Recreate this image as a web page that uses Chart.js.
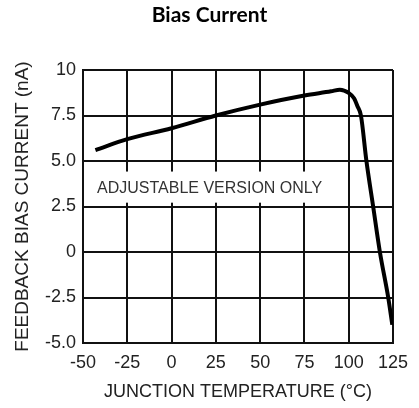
<!DOCTYPE html>
<html>
<head>
<meta charset="utf-8">
<script src="https://cdn.jsdelivr.net/npm/chart.js@4.4.0/dist/chart.umd.min.js"></script>
<style>
  html, body { margin: 0; padding: 0; background: #fff; }
  #wrap { width: 419px; height: 408px; }
</style>
</head>
<body>
<div id="wrap"><canvas id="biasChart" width="419" height="408"></canvas></div>
<script>
// data
const junctionTemp = [-43, -25, 0, 25, 50, 75, 90, 95, 100, 103, 105, 106.9, 110, 113.8, 117.6, 122.3, 124.6];
const biasCurrent  = [5.6, 6.2, 6.8, 7.5, 8.1, 8.6, 8.83, 8.92, 8.74, 8.45, 8.0, 7.5, 5.0, 2.5, 0, -2.5, -4.0];

const xTickValues = [-50, -25, 0, 25, 50, 75, 100, 125];
const yTickValues = [-5, -2.5, 0, 2.5, 5, 7.5, 10];
const yTickLabels = ['-5.0', '-2.5', '0', '2.5', '5.0', '7.5', '10'];

const chartTitle = 'Bias Current';
const xTitle = 'JUNCTION TEMPERATURE (°C)';
const yTitle = 'FEEDBACK BIAS CURRENT (nA)';
const noteText = 'ADJUSTABLE VERSION ONLY';

const gridColor = '#111';
const textColor = '#222';
const sansFont = '"Liberation Sans", Arial, sans-serif';

// label in a white box on top of the grid
const notePlugin = {
  id: 'note',
  beforeDatasetsDraw(chart, args, opts) {
    const { ctx } = chart;
    const x = chart.scales.x, y = chart.scales.y;
    const left = x.getPixelForValue(opts.boxFrom[0]);
    const right = x.getPixelForValue(opts.boxTo[0]);
    const top = y.getPixelForValue(opts.boxFrom[1]);
    const bottom = y.getPixelForValue(opts.boxTo[1]);
    ctx.save();
    ctx.fillStyle = '#fff';
    ctx.fillRect(left, top, right - left, bottom - top);
    ctx.fillStyle = '#333';
    ctx.font = '16px ' + sansFont;
    ctx.textAlign = 'left';
    ctx.textBaseline = 'middle';
    ctx.fillText(noteText, x.getPixelForValue(opts.textAt[0]), y.getPixelForValue(opts.textAt[1]));
    ctx.restore();
  }
};

const ctx = document.getElementById('biasChart').getContext('2d');
new Chart(ctx, {
  type: 'scatter',
  data: {
    datasets: [{
      data: junctionTemp.map((t, i) => ({ x: t, y: biasCurrent[i] })),
      showLine: true,
      borderColor: '#000',
      borderWidth: 4,
      pointRadius: 0,
      cubicInterpolationMode: 'monotone',
      fill: false
    }]
  },
  options: {
    responsive: false,
    animation: false,
    layout: { padding: 0 },
    plugins: {
      legend: { display: false },
      tooltip: { enabled: false },
      title: {
        display: true,
        text: chartTitle,
        color: '#000',
        font: { family: 'Lato', size: 21, weight: 'bold' },
        padding: { top: 2.4, bottom: 42.4 }
      },
      note: { boxFrom: [-48.3, 4.42], boxTo: [89.1, 2.71], textAt: [-42.1, 3.5] }
    },
    scales: {
      x: {
        type: 'linear',
        min: -50,
        max: 125,
        afterBuildTicks: s => { s.ticks = xTickValues.map(v => ({ value: v })); },
        afterFit: s => { s.height = 65; },
        grid: { color: gridColor, lineWidth: 2, drawTicks: false },
        border: { color: gridColor, width: 2 },
        ticks: {
          color: textColor,
          padding: 9,
          maxRotation: 0,
          font: { family: sansFont, size: 18 }
        },
        title: {
          display: true,
          text: xTitle,
          color: textColor,
          font: { family: sansFont, size: 18 },
          padding: { top: 0, bottom: 4.7 }
        }
      },
      y: {
        type: 'linear',
        min: -5,
        max: 10,
        afterBuildTicks: s => { s.ticks = yTickValues.map(v => ({ value: v })); },
        afterFit: s => { s.width = 83; },
        grid: { color: gridColor, lineWidth: 2, drawTicks: false },
        border: { color: gridColor, width: 2 },
        ticks: {
          color: textColor,
          padding: 7,
          font: { family: sansFont, size: 18 },
          callback: v => {
            const i = yTickValues.indexOf(v);
            return i >= 0 ? yTickLabels[i] : v;
          }
        },
        title: {
          display: true,
          text: yTitle,
          color: textColor,
          font: { family: sansFont, size: 19 },
          padding: { top: 11.6, bottom: 0 }
        }
      },
      // empty right margin so the title centres on the full canvas
      yRight: {
        position: 'right',
        display: true,
        afterFit: s => { s.width = 26; },
        grid: { display: false },
        border: { display: false },
        ticks: { display: false }
      }
    }
  },
  plugins: [notePlugin]
});
</script>
</body>
</html>
